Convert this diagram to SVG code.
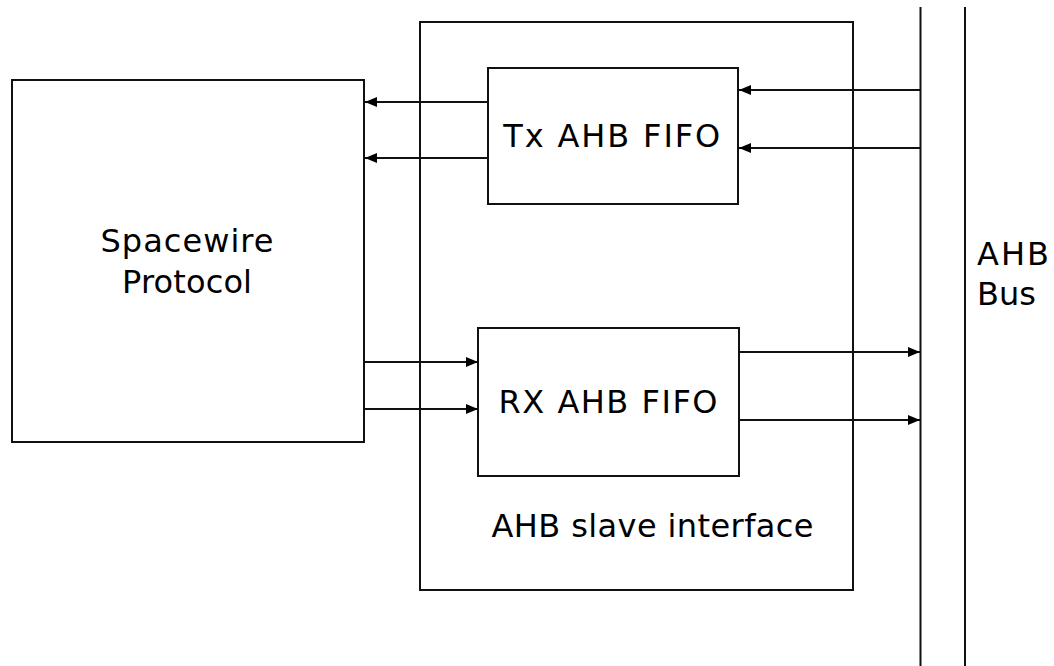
<svg xmlns="http://www.w3.org/2000/svg" width="1054" height="666" viewBox="0 0 1054 666">
<defs>
<style>
.box{fill:none;stroke:#111;stroke-width:2}
.ln{fill:none;stroke:#111;stroke-width:2}
.t{font-family:"DejaVu Sans","Verdana",sans-serif;font-size:32px;fill:#000}
</style>
<marker id="ah" viewBox="0 0 12 10" refX="12" refY="5" markerWidth="12" markerHeight="10" markerUnits="userSpaceOnUse" orient="auto">
<path d="M0,0 L12,5 L0,10 z" fill="#000"/>
</marker>
</defs>
<rect width="1054" height="666" fill="#fff"/>
<g id="spacewire">
<rect class="box" x="12" y="80" width="352" height="362"/>
<text class="t" x="187" y="252" text-anchor="middle" textLength="173" lengthAdjust="spacing">Spacewire</text>
<text class="t" x="187" y="293" text-anchor="middle" textLength="130" lengthAdjust="spacing">Protocol</text>
</g>
<g id="ahb-slave">
<rect class="box" x="420" y="22" width="433" height="568"/>
<text class="t" x="652.5" y="537" text-anchor="middle" textLength="322" lengthAdjust="spacing">AHB slave interface</text>
</g>
<g id="tx-fifo">
<rect class="box" x="488" y="68" width="250" height="136"/>
<text class="t" x="611.7" y="147" text-anchor="middle" textLength="217" lengthAdjust="spacing">Tx AHB FIFO</text>
</g>
<g id="rx-fifo">
<rect class="box" x="478" y="328" width="261" height="148"/>
<text class="t" x="608" y="413" text-anchor="middle" textLength="219" lengthAdjust="spacing">RX AHB FIFO</text>
</g>
<g id="ahb-bus">
<line class="ln" x1="920.5" y1="7" x2="920.5" y2="666"/>
<line class="ln" x1="965" y1="7" x2="965" y2="666"/>
<text class="t" x="977" y="265" textLength="72" lengthAdjust="spacing">AHB</text>
<text class="t" x="977" y="305">Bus</text>
</g>
<g id="connectors">
<line class="ln" x1="488" y1="102" x2="365" y2="102" marker-end="url(#ah)"/>
<line class="ln" x1="488" y1="158" x2="365" y2="158" marker-end="url(#ah)"/>
<line class="ln" x1="920" y1="90" x2="739" y2="90" marker-end="url(#ah)"/>
<line class="ln" x1="920" y1="148" x2="739" y2="148" marker-end="url(#ah)"/>
<line class="ln" x1="364" y1="362" x2="478" y2="362" marker-end="url(#ah)"/>
<line class="ln" x1="364" y1="409" x2="478" y2="409" marker-end="url(#ah)"/>
<line class="ln" x1="739" y1="352" x2="920" y2="352" marker-end="url(#ah)"/>
<line class="ln" x1="739" y1="420" x2="920" y2="420" marker-end="url(#ah)"/>
</g>
</svg>
